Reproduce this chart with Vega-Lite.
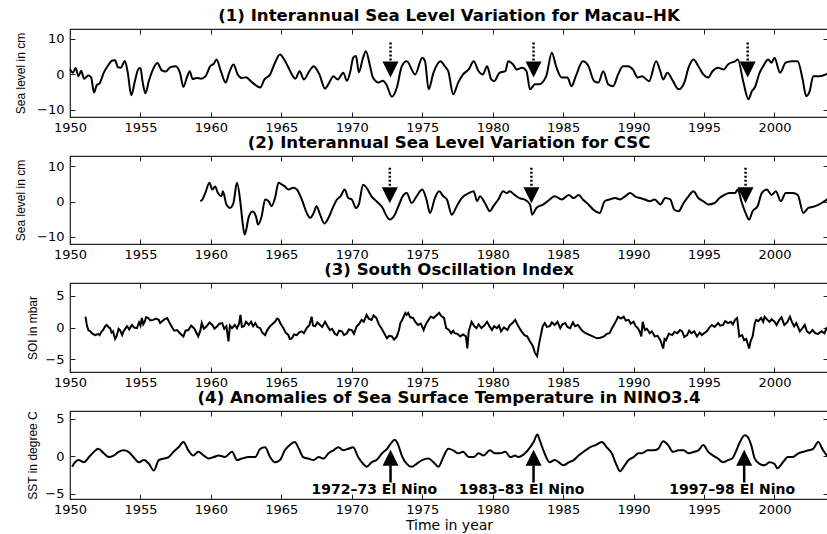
{
  "$schema": "https://vega.github.io/schema/vega-lite/v6.json",
  "padding": {"left": 13, "top": 7, "right": 0, "bottom": 0},
  "background": "white",
  "bounds": "flush",
  "spacing": 39,
  "config": {
    "view": {"stroke": "#222", "strokeWidth": 1.2},
    "axis": {"domain": false, "grid": false, "tickSize": -5, "tickColor": "#222", "tickWidth": 1, "labelFlush": false, "labelOverlap": false, "labelFont": "DejaVu Sans", "labelFontSize": 13, "labelColor": "#000", "titleFont": "Liberation Sans", "titleFontSize": 12, "titleFontWeight": "normal", "titleColor": "#000"},
    "title": {"font": "DejaVu Sans", "fontSize": 16.6, "fontWeight": "bold", "color": "#000", "offset": 3.5, "baseline": "alphabetic"}
  },
  "datasets": {
    "macau": [
      {"year":1950.0,"v":1.5},{"year":1950.2,"v":0.5},{"year":1950.4,"v":1.8},{"year":1950.6,"v":-0.5},{"year":1950.8,"v":1.0},{"year":1951.0,"v":-1.2},{"year":1951.3,"v":-0.3},{"year":1951.5,"v":-0.8},{"year":1951.7,"v":-5.1},{"year":1951.9,"v":-3.0},{"year":1952.1,"v":-2.5},{"year":1952.4,"v":0.5},{"year":1952.7,"v":2.5},{"year":1953.0,"v":3.9},{"year":1953.2,"v":4.0},{"year":1953.4,"v":2.0},{"year":1953.6,"v":1.9},{"year":1953.9,"v":3.8},{"year":1954.1,"v":0.5},{"year":1954.35,"v":-5.9},{"year":1954.6,"v":-2.0},{"year":1954.85,"v":1.5},{"year":1955.0,"v":1.8},{"year":1955.15,"v":-2.0},{"year":1955.35,"v":-5.3},{"year":1955.6,"v":-1.8},{"year":1955.9,"v":1.5},{"year":1956.2,"v":3.2},{"year":1956.5,"v":1.2},{"year":1956.8,"v":0.8},{"year":1957.1,"v":2.0},{"year":1957.5,"v":2.3},{"year":1957.8,"v":0.5},{"year":1958.05,"v":-3.5},{"year":1958.3,"v":-0.8},{"year":1958.5,"v":0.9},{"year":1958.7,"v":-1.3},{"year":1959.0,"v":-1.0},{"year":1959.3,"v":-1.2},{"year":1959.6,"v":-0.6},{"year":1959.95,"v":2.3},{"year":1960.2,"v":3.0},{"year":1960.4,"v":4.2},{"year":1960.7,"v":1.0},{"year":1961.05,"v":-2.3},{"year":1961.3,"v":0.5},{"year":1961.6,"v":2.8},{"year":1961.9,"v":0.0},{"year":1962.2,"v":-1.0},{"year":1962.5,"v":-0.8},{"year":1962.7,"v":-1.4},{"year":1963.1,"v":-2.8},{"year":1963.5,"v":-3.7},{"year":1963.8,"v":-1.4},{"year":1964.2,"v":0.0},{"year":1964.55,"v":3.3},{"year":1964.9,"v":5.6},{"year":1965.2,"v":4.2},{"year":1965.5,"v":2.0},{"year":1965.75,"v":0.0},{"year":1966.0,"v":-1.2},{"year":1966.3,"v":0.9},{"year":1966.6,"v":-1.4},{"year":1967.0,"v":1.0},{"year":1967.3,"v":2.3},{"year":1967.7,"v":0.0},{"year":1968.1,"v":-4.0},{"year":1968.4,"v":-2.3},{"year":1968.7,"v":-0.5},{"year":1969.0,"v":-1.4},{"year":1969.4,"v":0.5},{"year":1969.65,"v":-1.8},{"year":1969.9,"v":0.9},{"year":1970.1,"v":4.7},{"year":1970.3,"v":5.2},{"year":1970.5,"v":0.6},{"year":1970.8,"v":4.7},{"year":1971.0,"v":6.5},{"year":1971.3,"v":2.3},{"year":1971.5,"v":-0.9},{"year":1971.9,"v":-2.3},{"year":1972.2,"v":-1.8},{"year":1972.45,"v":-2.8},{"year":1972.85,"v":-6.3},{"year":1973.2,"v":-3.7},{"year":1973.55,"v":2.3},{"year":1973.9,"v":3.7},{"year":1974.5,"v":0.0},{"year":1975.0,"v":4.7},{"year":1975.2,"v":3.7},{"year":1975.45,"v":-4.2},{"year":1975.8,"v":0.5},{"year":1976.3,"v":3.7},{"year":1976.6,"v":2.3},{"year":1976.85,"v":0.9},{"year":1977.2,"v":-5.6},{"year":1977.55,"v":-2.3},{"year":1977.9,"v":0.0},{"year":1978.3,"v":1.4},{"year":1978.65,"v":3.7},{"year":1979.0,"v":0.9},{"year":1979.3,"v":0.0},{"year":1979.6,"v":2.3},{"year":1979.9,"v":-1.4},{"year":1980.1,"v":-1.9},{"year":1980.5,"v":0.5},{"year":1980.9,"v":0.9},{"year":1981.1,"v":3.7},{"year":1981.45,"v":2.8},{"year":1981.7,"v":1.4},{"year":1982.1,"v":1.9},{"year":1982.4,"v":0.9},{"year":1982.65,"v":-4.2},{"year":1983.0,"v":-2.8},{"year":1983.3,"v":-2.8},{"year":1983.8,"v":-0.5},{"year":1984.2,"v":6.1},{"year":1984.5,"v":2.3},{"year":1984.9,"v":-0.9},{"year":1985.3,"v":-0.9},{"year":1985.6,"v":-3.3},{"year":1985.9,"v":-0.5},{"year":1986.4,"v":3.7},{"year":1986.8,"v":2.3},{"year":1987.2,"v":-1.9},{"year":1987.5,"v":-2.3},{"year":1987.85,"v":0.9},{"year":1988.2,"v":-2.8},{"year":1988.55,"v":-3.3},{"year":1988.9,"v":0.0},{"year":1989.25,"v":2.3},{"year":1989.6,"v":2.3},{"year":1989.95,"v":1.4},{"year":1990.3,"v":-0.9},{"year":1990.6,"v":-0.5},{"year":1991.1,"v":-1.9},{"year":1991.6,"v":3.7},{"year":1991.9,"v":0.9},{"year":1992.1,"v":-1.4},{"year":1992.4,"v":0.5},{"year":1992.8,"v":-1.9},{"year":1993.2,"v":-4.2},{"year":1993.6,"v":-2.3},{"year":1993.9,"v":1.9},{"year":1994.25,"v":4.2},{"year":1994.6,"v":2.3},{"year":1994.95,"v":0.0},{"year":1995.3,"v":-0.9},{"year":1995.6,"v":0.9},{"year":1996.0,"v":1.9},{"year":1996.4,"v":1.4},{"year":1996.7,"v":2.8},{"year":1997.2,"v":3.7},{"year":1997.4,"v":4.2},{"year":1997.8,"v":-2.3},{"year":1998.15,"v":-7.0},{"year":1998.4,"v":-4.7},{"year":1998.6,"v":-3.7},{"year":1998.95,"v":0.5},{"year":1999.2,"v":2.3},{"year":1999.55,"v":4.2},{"year":1999.8,"v":3.3},{"year":2000.0,"v":4.7},{"year":2000.4,"v":0.5},{"year":2000.8,"v":3.3},{"year":2001.25,"v":3.7},{"year":2001.65,"v":3.7},{"year":2002.0,"v":-1.4},{"year":2002.25,"v":-6.1},{"year":2002.5,"v":-4.7},{"year":2002.75,"v":-0.5},{"year":2003.2,"v":-0.5},{"year":2003.65,"v":0.0},{"year":2003.8,"v":0.3}
    ],
    "csc": [
      {"year":1959.25,"v":0.1},{"year":1959.4,"v":0.6},{"year":1959.6,"v":2.4},{"year":1959.9,"v":5.3},{"year":1960.1,"v":3.4},{"year":1960.3,"v":4.3},{"year":1960.5,"v":2.4},{"year":1960.75,"v":1.5},{"year":1960.85,"v":2.9},{"year":1961.1,"v":-0.8},{"year":1961.35,"v":-1.8},{"year":1961.6,"v":-0.4},{"year":1961.85,"v":5.3},{"year":1962.1,"v":-0.4},{"year":1962.25,"v":-6.0},{"year":1962.4,"v":-9.3},{"year":1962.7,"v":-4.2},{"year":1962.95,"v":-2.8},{"year":1963.2,"v":-4.2},{"year":1963.35,"v":-6.5},{"year":1963.6,"v":-4.2},{"year":1963.85,"v":0.6},{"year":1964.1,"v":0.1},{"year":1964.3,"v":-1.3},{"year":1964.55,"v":1.0},{"year":1964.8,"v":5.3},{"year":1965.05,"v":4.8},{"year":1965.25,"v":4.3},{"year":1965.5,"v":3.4},{"year":1965.85,"v":3.9},{"year":1966.1,"v":3.4},{"year":1966.45,"v":0.6},{"year":1966.8,"v":-3.2},{"year":1967.05,"v":-4.6},{"year":1967.3,"v":-3.2},{"year":1967.5,"v":-1.3},{"year":1967.75,"v":-3.7},{"year":1968.05,"v":-6.2},{"year":1968.35,"v":-4.6},{"year":1968.7,"v":-1.3},{"year":1968.95,"v":0.6},{"year":1969.2,"v":1.5},{"year":1969.5,"v":3.4},{"year":1969.75,"v":1.0},{"year":1970.0,"v":0.6},{"year":1970.3,"v":-1.8},{"year":1970.5,"v":-0.8},{"year":1970.8,"v":4.8},{"year":1971.05,"v":3.9},{"year":1971.4,"v":1.5},{"year":1971.75,"v":0.1},{"year":1972.1,"v":-1.3},{"year":1972.7,"v":-5.1},{"year":1973.05,"v":-3.7},{"year":1973.4,"v":-0.4},{"year":1973.55,"v":1.0},{"year":1973.9,"v":2.4},{"year":1974.25,"v":-0.4},{"year":1974.6,"v":1.5},{"year":1975.0,"v":3.4},{"year":1975.3,"v":0.6},{"year":1975.55,"v":-3.2},{"year":1975.9,"v":1.0},{"year":1976.2,"v":2.9},{"year":1976.5,"v":1.5},{"year":1976.75,"v":0.6},{"year":1977.1,"v":-3.7},{"year":1977.45,"v":-1.3},{"year":1977.8,"v":1.0},{"year":1978.3,"v":2.4},{"year":1978.65,"v":2.9},{"year":1978.9,"v":0.1},{"year":1979.1,"v":1.5},{"year":1979.45,"v":-0.4},{"year":1979.8,"v":-2.7},{"year":1980.05,"v":-1.3},{"year":1980.4,"v":0.6},{"year":1980.75,"v":2.9},{"year":1981.0,"v":2.4},{"year":1981.2,"v":2.9},{"year":1981.55,"v":1.9},{"year":1981.9,"v":1.0},{"year":1982.25,"v":0.6},{"year":1982.65,"v":-0.8},{"year":1982.8,"v":-3.7},{"year":1983.1,"v":-1.8},{"year":1983.6,"v":-0.8},{"year":1984.05,"v":0.6},{"year":1984.4,"v":1.5},{"year":1984.9,"v":0.6},{"year":1985.4,"v":1.9},{"year":1985.75,"v":1.0},{"year":1986.1,"v":1.9},{"year":1986.4,"v":0.6},{"year":1986.8,"v":-0.8},{"year":1987.15,"v":-2.3},{"year":1987.6,"v":-3.2},{"year":1987.95,"v":0.1},{"year":1988.3,"v":0.6},{"year":1988.7,"v":1.0},{"year":1989.05,"v":0.6},{"year":1989.4,"v":1.5},{"year":1989.75,"v":2.4},{"year":1990.1,"v":1.5},{"year":1990.45,"v":1.0},{"year":1990.8,"v":0.6},{"year":1991.15,"v":0.1},{"year":1991.5,"v":0.6},{"year":1991.9,"v":-0.8},{"year":1992.25,"v":1.0},{"year":1992.6,"v":0.6},{"year":1992.9,"v":-2.3},{"year":1993.2,"v":-2.7},{"year":1993.55,"v":-0.4},{"year":1993.9,"v":1.5},{"year":1994.25,"v":2.9},{"year":1994.6,"v":1.0},{"year":1994.95,"v":0.1},{"year":1995.3,"v":-0.8},{"year":1995.75,"v":-0.4},{"year":1996.1,"v":1.0},{"year":1996.45,"v":1.9},{"year":1996.8,"v":2.4},{"year":1997.2,"v":2.4},{"year":1997.4,"v":3.4},{"year":1997.65,"v":0.1},{"year":1998.0,"v":-3.7},{"year":1998.2,"v":-5.1},{"year":1998.45,"v":-2.7},{"year":1998.8,"v":-1.3},{"year":1999.1,"v":2.4},{"year":1999.45,"v":3.4},{"year":1999.8,"v":1.9},{"year":2000.1,"v":2.9},{"year":2000.45,"v":0.1},{"year":2000.8,"v":2.4},{"year":2001.3,"v":2.4},{"year":2001.65,"v":1.9},{"year":2002.05,"v":-3.2},{"year":2002.4,"v":-1.8},{"year":2002.9,"v":-1.3},{"year":2003.35,"v":-0.4},{"year":2003.8,"v":0.8}
    ],
    "soi": [
      {"year":1951.1,"v":1.7},{"year":1951.2,"v":0.3},{"year":1951.3,"v":-0.4},{"year":1951.45,"v":-0.6},{"year":1951.55,"v":-0.9},{"year":1951.7,"v":-1.1},{"year":1951.8,"v":-1.2},{"year":1952.0,"v":-1.0},{"year":1952.1,"v":-1.2},{"year":1952.25,"v":-0.6},{"year":1952.35,"v":-0.4},{"year":1952.5,"v":0.2},{"year":1952.6,"v":0.4},{"year":1952.75,"v":0.0},{"year":1952.85,"v":-0.1},{"year":1952.95,"v":-0.8},{"year":1953.05,"v":-0.6},{"year":1953.2,"v":-1.8},{"year":1953.3,"v":-1.4},{"year":1953.45,"v":-0.2},{"year":1953.55,"v":-0.4},{"year":1953.7,"v":-1.2},{"year":1953.8,"v":-0.6},{"year":1953.95,"v":-0.1},{"year":1954.05,"v":0.2},{"year":1954.2,"v":-0.3},{"year":1954.4,"v":0.4},{"year":1954.55,"v":0.0},{"year":1954.75,"v":-0.1},{"year":1954.9,"v":0.8},{"year":1955.0,"v":0.3},{"year":1955.1,"v":1.5},{"year":1955.2,"v":0.5},{"year":1955.3,"v":0.9},{"year":1955.4,"v":1.6},{"year":1955.55,"v":1.5},{"year":1955.7,"v":1.1},{"year":1955.9,"v":1.2},{"year":1956.1,"v":1.4},{"year":1956.3,"v":1.2},{"year":1956.4,"v":0.7},{"year":1956.5,"v":0.9},{"year":1956.7,"v":1.3},{"year":1956.9,"v":1.5},{"year":1957.05,"v":0.8},{"year":1957.25,"v":0.0},{"year":1957.4,"v":-0.5},{"year":1957.6,"v":-0.4},{"year":1957.8,"v":-0.9},{"year":1958.05,"v":-1.4},{"year":1958.2,"v":-0.5},{"year":1958.4,"v":-0.4},{"year":1958.6,"v":0.3},{"year":1958.8,"v":-0.1},{"year":1958.95,"v":-0.7},{"year":1959.1,"v":-1.4},{"year":1959.25,"v":-0.5},{"year":1959.35,"v":0.7},{"year":1959.5,"v":-0.2},{"year":1959.7,"v":0.2},{"year":1959.9,"v":0.8},{"year":1960.1,"v":0.4},{"year":1960.25,"v":-0.2},{"year":1960.45,"v":0.2},{"year":1960.6,"v":0.6},{"year":1960.8,"v":0.7},{"year":1960.95,"v":-0.2},{"year":1961.1,"v":0.2},{"year":1961.25,"v":-2.2},{"year":1961.35,"v":0.3},{"year":1961.5,"v":-0.1},{"year":1961.7,"v":0.4},{"year":1961.85,"v":-0.1},{"year":1962.0,"v":0.6},{"year":1962.1,"v":2.0},{"year":1962.2,"v":0.1},{"year":1962.35,"v":0.2},{"year":1962.5,"v":0.9},{"year":1962.7,"v":0.4},{"year":1962.85,"v":0.9},{"year":1963.0,"v":0.2},{"year":1963.15,"v":0.7},{"year":1963.3,"v":0.1},{"year":1963.5,"v":-0.1},{"year":1963.65,"v":-0.8},{"year":1963.85,"v":-1.2},{"year":1964.0,"v":-0.4},{"year":1964.2,"v":0.2},{"year":1964.35,"v":0.5},{"year":1964.55,"v":0.9},{"year":1964.7,"v":1.4},{"year":1964.8,"v":1.3},{"year":1964.95,"v":0.6},{"year":1965.15,"v":-0.1},{"year":1965.3,"v":-0.8},{"year":1965.5,"v":-1.2},{"year":1965.6,"v":-1.8},{"year":1965.75,"v":-1.7},{"year":1965.9,"v":-1.1},{"year":1966.1,"v":-1.2},{"year":1966.25,"v":-0.8},{"year":1966.45,"v":-0.6},{"year":1966.6,"v":-0.9},{"year":1966.8,"v":-0.1},{"year":1967.0,"v":0.4},{"year":1967.15,"v":1.7},{"year":1967.25,"v":0.3},{"year":1967.4,"v":0.2},{"year":1967.55,"v":0.8},{"year":1967.75,"v":0.4},{"year":1967.9,"v":0.1},{"year":1968.1,"v":0.9},{"year":1968.25,"v":0.3},{"year":1968.45,"v":-0.4},{"year":1968.6,"v":-0.2},{"year":1968.8,"v":-1.0},{"year":1968.95,"v":-1.2},{"year":1969.1,"v":-0.5},{"year":1969.3,"v":-0.6},{"year":1969.45,"v":-1.2},{"year":1969.65,"v":-0.9},{"year":1969.8,"v":-0.3},{"year":1970.0,"v":-0.4},{"year":1970.15,"v":-1.0},{"year":1970.35,"v":0.2},{"year":1970.5,"v":0.5},{"year":1970.7,"v":1.2},{"year":1970.85,"v":0.9},{"year":1971.05,"v":2.0},{"year":1971.2,"v":1.4},{"year":1971.4,"v":1.2},{"year":1971.55,"v":1.9},{"year":1971.75,"v":1.5},{"year":1971.9,"v":0.6},{"year":1972.1,"v":-0.1},{"year":1972.3,"v":-0.9},{"year":1972.5,"v":-1.7},{"year":1972.65,"v":-1.3},{"year":1972.85,"v":-1.4},{"year":1973.0,"v":-1.9},{"year":1973.2,"v":-1.4},{"year":1973.35,"v":-0.4},{"year":1973.45,"v":0.7},{"year":1973.6,"v":1.3},{"year":1973.8,"v":2.3},{"year":1973.9,"v":2.0},{"year":1974.0,"v":2.3},{"year":1974.15,"v":1.6},{"year":1974.35,"v":1.5},{"year":1974.5,"v":0.9},{"year":1974.7,"v":0.4},{"year":1974.9,"v":0.6},{"year":1975.1,"v":-0.4},{"year":1975.25,"v":0.5},{"year":1975.45,"v":1.2},{"year":1975.6,"v":1.7},{"year":1975.8,"v":1.5},{"year":1976.0,"v":1.9},{"year":1976.2,"v":2.3},{"year":1976.35,"v":1.8},{"year":1976.55,"v":1.5},{"year":1976.7,"v":-0.1},{"year":1976.9,"v":-0.4},{"year":1977.05,"v":-0.9},{"year":1977.2,"v":-0.5},{"year":1977.3,"v":-0.9},{"year":1977.5,"v":-1.0},{"year":1977.7,"v":-1.4},{"year":1977.9,"v":-1.1},{"year":1978.1,"v":-1.4},{"year":1978.2,"v":-3.3},{"year":1978.3,"v":-0.6},{"year":1978.5,"v":0.9},{"year":1978.7,"v":0.2},{"year":1978.85,"v":-0.1},{"year":1979.0,"v":0.5},{"year":1979.2,"v":-0.1},{"year":1979.4,"v":0.3},{"year":1979.6,"v":0.9},{"year":1979.8,"v":0.1},{"year":1979.95,"v":-0.4},{"year":1980.1,"v":0.2},{"year":1980.3,"v":-0.1},{"year":1980.45,"v":0.3},{"year":1980.6,"v":-0.6},{"year":1980.8,"v":0.0},{"year":1981.05,"v":-0.4},{"year":1981.2,"v":0.3},{"year":1981.4,"v":0.7},{"year":1981.6,"v":1.2},{"year":1981.75,"v":0.5},{"year":1981.9,"v":-0.1},{"year":1982.05,"v":-0.6},{"year":1982.25,"v":-1.2},{"year":1982.45,"v":-1.4},{"year":1982.65,"v":-2.2},{"year":1982.85,"v":-2.9},{"year":1983.0,"v":-4.0},{"year":1983.15,"v":-4.5},{"year":1983.3,"v":-2.5},{"year":1983.4,"v":-1.4},{"year":1983.55,"v":0.2},{"year":1983.7,"v":0.7},{"year":1983.85,"v":0.1},{"year":1984.05,"v":0.2},{"year":1984.2,"v":0.8},{"year":1984.4,"v":0.4},{"year":1984.6,"v":0.9},{"year":1984.8,"v":-0.1},{"year":1984.95,"v":0.5},{"year":1985.15,"v":0.7},{"year":1985.3,"v":0.1},{"year":1985.5,"v":-0.1},{"year":1985.7,"v":0.8},{"year":1985.85,"v":0.2},{"year":1986.05,"v":0.4},{"year":1986.25,"v":-0.2},{"year":1986.4,"v":-0.6},{"year":1986.6,"v":-0.9},{"year":1986.9,"v":-1.2},{"year":1987.1,"v":-1.4},{"year":1987.4,"v":-1.7},{"year":1987.65,"v":-1.6},{"year":1987.9,"v":-1.4},{"year":1988.1,"v":-1.0},{"year":1988.3,"v":-0.9},{"year":1988.45,"v":-0.2},{"year":1988.6,"v":0.4},{"year":1988.75,"v":1.0},{"year":1988.9,"v":1.7},{"year":1989.1,"v":1.4},{"year":1989.3,"v":1.7},{"year":1989.45,"v":1.1},{"year":1989.65,"v":1.2},{"year":1989.8,"v":0.6},{"year":1990.0,"v":0.9},{"year":1990.15,"v":0.2},{"year":1990.3,"v":-0.1},{"year":1990.45,"v":-0.7},{"year":1990.55,"v":-1.4},{"year":1990.65,"v":0.9},{"year":1990.8,"v":-0.4},{"year":1990.95,"v":-0.2},{"year":1991.15,"v":-0.9},{"year":1991.3,"v":-0.6},{"year":1991.5,"v":-1.4},{"year":1991.7,"v":-1.3},{"year":1991.9,"v":-2.0},{"year":1992.1,"v":-3.3},{"year":1992.2,"v":-1.8},{"year":1992.3,"v":-2.0},{"year":1992.5,"v":-1.0},{"year":1992.75,"v":-1.2},{"year":1992.9,"v":-0.7},{"year":1993.1,"v":-0.9},{"year":1993.3,"v":-0.4},{"year":1993.45,"v":-0.6},{"year":1993.6,"v":-1.5},{"year":1993.8,"v":-1.2},{"year":1993.95,"v":-0.5},{"year":1994.1,"v":-0.9},{"year":1994.3,"v":-0.6},{"year":1994.5,"v":-1.4},{"year":1994.7,"v":-0.8},{"year":1994.85,"v":-1.2},{"year":1995.0,"v":-0.9},{"year":1995.2,"v":-0.6},{"year":1995.35,"v":-0.1},{"year":1995.55,"v":0.4},{"year":1995.75,"v":0.1},{"year":1996.0,"v":0.7},{"year":1996.15,"v":0.3},{"year":1996.35,"v":0.4},{"year":1996.5,"v":1.0},{"year":1996.7,"v":0.7},{"year":1996.9,"v":0.9},{"year":1997.05,"v":0.5},{"year":1997.2,"v":1.2},{"year":1997.35,"v":1.5},{"year":1997.45,"v":-0.4},{"year":1997.5,"v":-1.4},{"year":1997.7,"v":-1.2},{"year":1997.85,"v":-2.0},{"year":1998.0,"v":-1.8},{"year":1998.2,"v":-3.3},{"year":1998.3,"v":-2.2},{"year":1998.45,"v":-1.4},{"year":1998.6,"v":0.6},{"year":1998.7,"v":1.2},{"year":1998.85,"v":1.0},{"year":1999.05,"v":1.5},{"year":1999.2,"v":0.9},{"year":1999.3,"v":1.7},{"year":1999.5,"v":1.2},{"year":1999.65,"v":0.9},{"year":1999.8,"v":1.3},{"year":2000.0,"v":0.9},{"year":2000.15,"v":0.4},{"year":2000.35,"v":1.2},{"year":2000.5,"v":1.6},{"year":2000.7,"v":0.4},{"year":2000.9,"v":0.8},{"year":2001.1,"v":1.7},{"year":2001.25,"v":0.8},{"year":2001.4,"v":0.2},{"year":2001.55,"v":0.7},{"year":2001.8,"v":-0.6},{"year":2001.95,"v":-0.2},{"year":2002.15,"v":0.4},{"year":2002.3,"v":-0.6},{"year":2002.5,"v":-0.9},{"year":2002.7,"v":-0.4},{"year":2002.9,"v":-0.9},{"year":2003.1,"v":-1.0},{"year":2003.35,"v":-0.6},{"year":2003.55,"v":-0.9},{"year":2003.7,"v":-0.1},{"year":2003.8,"v":-0.3}
    ],
    "sst": [
      {"year":1950.15,"v":-1.4},{"year":1950.35,"v":-0.8},{"year":1950.6,"v":-0.5},{"year":1951.0,"v":-0.8},{"year":1951.35,"v":-0.1},{"year":1951.7,"v":0.6},{"year":1952.0,"v":1.0},{"year":1952.4,"v":0.4},{"year":1952.75,"v":-0.1},{"year":1953.1,"v":0.1},{"year":1953.45,"v":0.6},{"year":1953.8,"v":0.8},{"year":1954.15,"v":0.6},{"year":1954.5,"v":-0.1},{"year":1954.9,"v":-0.8},{"year":1955.25,"v":-0.5},{"year":1955.6,"v":-1.0},{"year":1955.95,"v":-1.9},{"year":1956.3,"v":-0.5},{"year":1956.65,"v":-0.3},{"year":1957.0,"v":-0.1},{"year":1957.35,"v":0.6},{"year":1957.7,"v":1.2},{"year":1958.05,"v":1.9},{"year":1958.4,"v":0.8},{"year":1958.75,"v":0.1},{"year":1959.1,"v":0.6},{"year":1959.5,"v":0.1},{"year":1959.85,"v":-0.3},{"year":1960.2,"v":-0.1},{"year":1960.55,"v":0.1},{"year":1961.0,"v":-0.1},{"year":1961.5,"v":0.6},{"year":1961.85,"v":-0.5},{"year":1962.2,"v":-0.3},{"year":1962.7,"v":-0.1},{"year":1963.15,"v":-0.1},{"year":1963.5,"v":1.0},{"year":1963.85,"v":1.2},{"year":1964.2,"v":-0.1},{"year":1964.55,"v":-0.8},{"year":1964.9,"v":-0.5},{"year":1965.25,"v":0.8},{"year":1965.6,"v":1.5},{"year":1965.95,"v":1.9},{"year":1966.25,"v":1.0},{"year":1966.55,"v":-0.1},{"year":1966.9,"v":-0.3},{"year":1967.3,"v":-0.5},{"year":1967.65,"v":-0.1},{"year":1968.0,"v":-0.3},{"year":1968.35,"v":0.4},{"year":1968.7,"v":0.8},{"year":1969.05,"v":1.2},{"year":1969.4,"v":0.8},{"year":1969.75,"v":1.0},{"year":1970.1,"v":1.2},{"year":1970.45,"v":-0.1},{"year":1970.8,"v":-1.0},{"year":1971.05,"v":-1.4},{"year":1971.4,"v":-0.8},{"year":1971.75,"v":-0.5},{"year":1972.15,"v":0.4},{"year":1972.5,"v":1.0},{"year":1972.85,"v":1.9},{"year":1973.05,"v":2.2},{"year":1973.3,"v":1.5},{"year":1973.55,"v":0.1},{"year":1973.9,"v":-1.0},{"year":1974.25,"v":-1.4},{"year":1974.6,"v":-1.0},{"year":1975.0,"v":-0.5},{"year":1975.45,"v":-0.3},{"year":1975.8,"v":-0.8},{"year":1976.15,"v":-1.4},{"year":1976.5,"v":-0.1},{"year":1976.85,"v":1.0},{"year":1977.2,"v":0.8},{"year":1977.55,"v":0.4},{"year":1977.9,"v":0.6},{"year":1978.3,"v":-0.1},{"year":1978.65,"v":-0.1},{"year":1979.0,"v":0.4},{"year":1979.35,"v":0.1},{"year":1979.8,"v":0.8},{"year":1980.15,"v":0.4},{"year":1980.5,"v":0.4},{"year":1980.9,"v":0.6},{"year":1981.25,"v":-0.1},{"year":1981.6,"v":0.1},{"year":1981.8,"v":-0.1},{"year":1982.3,"v":0.4},{"year":1982.65,"v":1.2},{"year":1982.9,"v":1.9},{"year":1983.17,"v":2.9},{"year":1983.35,"v":2.1},{"year":1983.6,"v":0.8},{"year":1984.05,"v":-0.8},{"year":1984.4,"v":-0.5},{"year":1984.7,"v":-0.8},{"year":1985.0,"v":-1.2},{"year":1985.4,"v":-0.8},{"year":1985.75,"v":-0.5},{"year":1986.1,"v":0.1},{"year":1986.45,"v":0.6},{"year":1986.9,"v":1.2},{"year":1987.3,"v":1.5},{"year":1987.75,"v":1.9},{"year":1988.1,"v":1.2},{"year":1988.45,"v":0.4},{"year":1988.8,"v":-1.2},{"year":1989.05,"v":-2.0},{"year":1989.3,"v":-1.4},{"year":1989.65,"v":-0.5},{"year":1990.0,"v":-0.1},{"year":1990.35,"v":0.4},{"year":1990.6,"v":0.4},{"year":1991.0,"v":0.8},{"year":1991.4,"v":0.8},{"year":1991.75,"v":1.0},{"year":1992.1,"v":2.0},{"year":1992.45,"v":1.5},{"year":1992.8,"v":0.6},{"year":1993.2,"v":0.8},{"year":1993.55,"v":0.8},{"year":1993.9,"v":0.4},{"year":1994.3,"v":0.6},{"year":1994.6,"v":0.8},{"year":1994.95,"v":1.5},{"year":1995.3,"v":0.6},{"year":1995.65,"v":0.1},{"year":1996.0,"v":-0.3},{"year":1996.35,"v":-0.8},{"year":1996.7,"v":-0.5},{"year":1997.0,"v":-0.3},{"year":1997.3,"v":0.8},{"year":1997.55,"v":1.9},{"year":1997.9,"v":2.8},{"year":1998.1,"v":2.6},{"year":1998.35,"v":1.5},{"year":1998.6,"v":-0.3},{"year":1998.95,"v":-1.0},{"year":1999.3,"v":-1.2},{"year":1999.65,"v":-0.8},{"year":2000.0,"v":-1.0},{"year":2000.2,"v":-1.6},{"year":2000.6,"v":-0.8},{"year":2000.95,"v":-0.1},{"year":2001.3,"v":-0.1},{"year":2001.7,"v":0.4},{"year":2002.05,"v":0.6},{"year":2002.4,"v":0.8},{"year":2002.75,"v":1.0},{"year":2003.1,"v":1.9},{"year":2003.45,"v":0.8},{"year":2003.8,"v":-0.1}
    ],
    "arr1": [{"x":1972.75,"top":9.0,"base":3.5,"head":1.4},{"x":1982.9,"top":9.0,"base":3.5,"head":1.4},{"x":1998.1,"top":9.0,"base":3.5,"head":1.4}],
    "arr2": [{"x":1972.7,"top":9.6,"base":3.9,"head":1.8},{"x":1982.75,"top":9.6,"base":3.9,"head":1.8},{"x":1997.95,"top":9.6,"base":3.9,"head":1.8}],
    "arr4": [{"x":1972.75,"top":-1.2,"base":-3.5,"head":-0.2,"label":"1972–73 El Nino","lx":1971.6,"ly":-4.5},{"x":1982.9,"top":-1.2,"base":-3.5,"head":-0.2,"label":"1983–83 El Nino","lx":1982.05,"ly":-4.5},{"x":1997.85,"top":-1.2,"base":-3.5,"head":-0.2,"label":"1997–98 El Nino","lx":1997.0,"ly":-4.5}]
  },
  "vconcat": [
    {
      "width": 758, "height": 88,
      "title": "(1) Interannual Sea Level Variation for Macau–HK",
      "resolve": {"axis": {"x": "independent", "y": "independent"}},
      "layer": [
        {"data": {"name": "macau"}, "mark": {"type": "line", "color": "#000", "strokeWidth": 2, "interpolate": "monotone"},
         "encoding": {
           "x": {"field": "year", "type": "quantitative", "scale": {"domain": [1950, 2003.8], "nice": false, "zero": false}, "axis": {"orient": "bottom", "values": [1950,1955,1960,1965,1970,1975,1980,1985,1990,1995,2000], "format": "d", "title": null, "labelPadding": 9}},
           "y": {"field": "v", "type": "quantitative", "scale": {"domain": [-12, 12.8], "nice": false, "zero": false}, "axis": {"orient": "left", "values": [-10,0,10], "title": "Sea level in cm", "titleX": -55, "titleBaseline": "top", "labelPadding": 11}}
         }},
        {"data": {"name": "macau"}, "mark": {"type": "line", "opacity": 0},
         "encoding": {
           "x": {"field": "year", "type": "quantitative", "axis": {"orient": "top", "values": [1950,1955,1960,1965,1970,1975,1980,1985,1990,1995,2000], "labels": false, "title": null}},
           "y": {"field": "v", "type": "quantitative", "axis": {"orient": "right", "values": [-10,0,10], "labels": false, "title": null}}
         }},
        {"data": {"name": "arr1"}, "mark": {"type": "rule", "color": "#000", "strokeWidth": 2.5, "strokeDash": [2, 2]},
         "encoding": {"x": {"field": "x", "type": "quantitative", "axis": null}, "y": {"field": "top", "type": "quantitative", "axis": null}, "y2": {"field": "base"}}},
        {"data": {"name": "arr1"}, "mark": {"type": "point", "shape": "M-1,-1L1,-1L0,1Z", "size": 256, "filled": true, "color": "#000", "opacity": 1},
         "encoding": {"x": {"field": "x", "type": "quantitative", "axis": null}, "y": {"field": "head", "type": "quantitative", "axis": null}}}
      ]
    },
    {
      "width": 758, "height": 88,
      "title": "(2) Interannual Sea Level Variation for CSC",
      "resolve": {"axis": {"x": "independent", "y": "independent"}},
      "layer": [
        {"data": {"name": "csc"}, "mark": {"type": "line", "color": "#000", "strokeWidth": 2, "interpolate": "monotone"},
         "encoding": {
           "x": {"field": "year", "type": "quantitative", "scale": {"domain": [1950, 2003.8], "nice": false, "zero": false}, "axis": {"orient": "bottom", "values": [1950,1955,1960,1965,1970,1975,1980,1985,1990,1995,2000], "format": "d", "title": null, "labelPadding": 9}},
           "y": {"field": "v", "type": "quantitative", "scale": {"domain": [-12, 12.9], "nice": false, "zero": false}, "axis": {"orient": "left", "values": [-10,0,10], "title": "Sea level in cm", "titleX": -55, "titleBaseline": "top", "labelPadding": 11}}
         }},
        {"data": {"name": "csc"}, "mark": {"type": "line", "opacity": 0},
         "encoding": {
           "x": {"field": "year", "type": "quantitative", "axis": {"orient": "top", "values": [1950,1955,1960,1965,1970,1975,1980,1985,1990,1995,2000], "labels": false, "title": null}},
           "y": {"field": "v", "type": "quantitative", "axis": {"orient": "right", "values": [-10,0,10], "labels": false, "title": null}}
         }},
        {"data": {"name": "arr2"}, "mark": {"type": "rule", "color": "#000", "strokeWidth": 2.5, "strokeDash": [2, 2]},
         "encoding": {"x": {"field": "x", "type": "quantitative", "axis": null}, "y": {"field": "top", "type": "quantitative", "axis": null}, "y2": {"field": "base"}}},
        {"data": {"name": "arr2"}, "mark": {"type": "point", "shape": "M-1,-1L1,-1L0,1Z", "size": 256, "filled": true, "color": "#000", "opacity": 1},
         "encoding": {"x": {"field": "x", "type": "quantitative", "axis": null}, "y": {"field": "head", "type": "quantitative", "axis": null}}}
      ]
    },
    {
      "width": 758, "height": 89,
      "title": "(3) South Oscillation Index",
      "resolve": {"axis": {"x": "independent", "y": "independent"}},
      "layer": [
        {"data": {"name": "soi"}, "mark": {"type": "line", "color": "#000", "strokeWidth": 2},
         "encoding": {
           "x": {"field": "year", "type": "quantitative", "scale": {"domain": [1950, 2003.8], "nice": false, "zero": false}, "axis": {"orient": "bottom", "values": [1950,1955,1960,1965,1970,1975,1980,1985,1990,1995,2000], "format": "d", "title": null, "labelPadding": 9}},
           "y": {"field": "v", "type": "quantitative", "scale": {"domain": [-7, 7], "nice": false, "zero": false}, "axis": {"orient": "left", "values": [-5,0,5], "title": "SOI in mbar", "titleX": -43, "titleBaseline": "top", "labelPadding": 11}}
         }},
        {"data": {"name": "soi"}, "mark": {"type": "line", "opacity": 0},
         "encoding": {
           "x": {"field": "year", "type": "quantitative", "axis": {"orient": "top", "values": [1950,1955,1960,1965,1970,1975,1980,1985,1990,1995,2000], "labels": false, "title": null}},
           "y": {"field": "v", "type": "quantitative", "axis": {"orient": "right", "values": [-5,0,5], "labels": false, "title": null}}
         }}
      ]
    },
    {
      "width": 758, "height": 88,
      "title": "(4) Anomalies of Sea Surface Temperature in NINO3.4",
      "resolve": {"axis": {"x": "independent", "y": "independent"}},
      "layer": [
        {"data": {"name": "sst"}, "mark": {"type": "line", "color": "#000", "strokeWidth": 2, "interpolate": "monotone"},
         "encoding": {
           "x": {"field": "year", "type": "quantitative", "scale": {"domain": [1950, 2003.8], "nice": false, "zero": false}, "axis": {"orient": "bottom", "values": [1950,1955,1960,1965,1970,1975,1980,1985,1990,1995,2000], "format": "d", "title": "Time in year", "titleFont": "DejaVu Sans", "titleFontSize": 14, "titlePadding": 2, "labelPadding": 9}},
           "y": {"field": "v", "type": "quantitative", "scale": {"domain": [-5.7, 6.05], "nice": false, "zero": false}, "axis": {"orient": "left", "values": [-5,0,5], "title": "SST in degree C", "titleX": -43, "titleBaseline": "top", "labelPadding": 11}}
         }},
        {"data": {"name": "sst"}, "mark": {"type": "line", "opacity": 0},
         "encoding": {
           "x": {"field": "year", "type": "quantitative", "axis": {"orient": "top", "values": [1950,1955,1960,1965,1970,1975,1980,1985,1990,1995,2000], "labels": false, "title": null}},
           "y": {"field": "v", "type": "quantitative", "axis": {"orient": "right", "values": [-5,0,5], "labels": false, "title": null}}
         }},
        {"data": {"name": "arr4"}, "mark": {"type": "rule", "color": "#000", "strokeWidth": 2.5},
         "encoding": {"x": {"field": "x", "type": "quantitative", "axis": null}, "y": {"field": "top", "type": "quantitative", "axis": null}, "y2": {"field": "base"}}},
        {"data": {"name": "arr4"}, "mark": {"type": "point", "shape": "M0,-1L1,1L-1,1Z", "size": 256, "filled": true, "color": "#000", "opacity": 1},
         "encoding": {"x": {"field": "x", "type": "quantitative", "axis": null}, "y": {"field": "head", "type": "quantitative", "axis": null}}},
        {"data": {"name": "arr4"}, "mark": {"type": "text", "font": "DejaVu Sans", "fontSize": 14, "fontWeight": "bold", "color": "#000", "baseline": "middle", "align": "center"},
         "encoding": {"x": {"field": "lx", "type": "quantitative", "axis": null}, "y": {"field": "ly", "type": "quantitative", "axis": null}, "text": {"field": "label"}}}
      ]
    }
  ]
}
